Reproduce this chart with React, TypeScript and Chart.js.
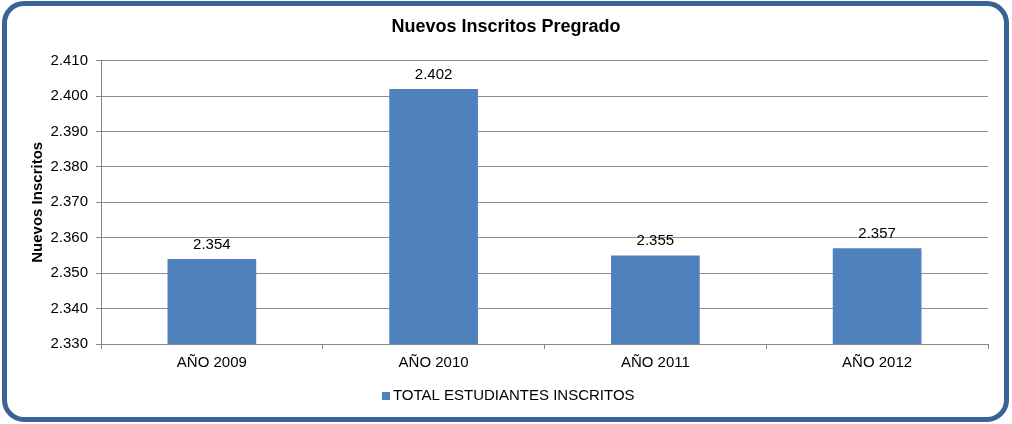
import React, { useEffect, useRef } from "react";
import { Chart, registerables } from "chart.js";

Chart.register(...registerables);

const categories = ["AÑO 2009", "AÑO 2010", "AÑO 2011", "AÑO 2012"];
const seriesName = "TOTAL ESTUDIANTES INSCRITOS";
const values = [2354, 2402, 2355, 2357];
const yMin = 2330;
const yMax = 2410;
const yStep = 10;

const BAR_COLOR = "#4F81BD";

const fmt = (v: number) => {
  const s = String(Math.round(v));
  return s.length > 3 ? s.slice(0, s.length - 3) + "." + s.slice(s.length - 3) : s;
};

const FONT = "'Liberation Sans', Arial, sans-serif";

const dataLabels = {
  id: "dataLabels",
  afterDatasetsDraw(chart: any) {
    const ctx = chart.ctx;
    const meta = chart.getDatasetMeta(0);
    ctx.save();
    ctx.font = `15px ${FONT}`;
    ctx.fillStyle = "#000";
    ctx.textAlign = "center";
    ctx.textBaseline = "alphabetic";
    meta.data.forEach((bar: any, i: number) => {
      ctx.fillText(fmt(values[i]), bar.x, bar.y - 10);
    });
    ctx.restore();
  },
};

export default function App() {
  const ref = useRef<HTMLCanvasElement>(null);
  useEffect(() => {
    // legend marker: 8px square placed close to the text
    const marker = document.createElement("canvas");
    marker.width = 17;
    marker.height = 8;
    const mctx = marker.getContext("2d")!;
    mctx.fillStyle = BAR_COLOR;
    mctx.fillRect(9, 0, 8, 8);

    const chart = new Chart(ref.current!, {
      type: "bar",
      data: {
        labels: categories,
        datasets: [
          {
            label: seriesName,
            data: values,
            backgroundColor: BAR_COLOR,
            borderWidth: 0,
            categoryPercentage: 1,
            barPercentage: 0.4,
          },
        ],
      },
      options: {
        animation: false,
        responsive: false,
        layout: { padding: { left: 24, right: 24, top: 9, bottom: 11 } },
        plugins: {
          title: {
            display: true,
            text: "Nuevos Inscritos Pregrado",
            color: "#000",
            font: { family: FONT, size: 18, weight: "bold" },
            padding: { top: 7, bottom: 23 },
          },
          legend: {
            position: "bottom",
            labels: {
              color: "#000",
              font: { family: FONT, size: 15 },
              usePointStyle: true,
              pointStyle: marker,
              pointStyleWidth: 8,
              boxWidth: 8,
              boxHeight: 8,
              padding: 10,
            },
          },
          tooltip: { enabled: false },
        },
        scales: {
          x: {
            afterFit: (s: any) => {
              s.height = 34;
            },
            grid: {
              drawOnChartArea: false,
              drawTicks: true,
              tickLength: 5,
              color: "#868686",
              offset: true,
            },
            border: { color: "#868686", width: 1 },
            ticks: {
              color: "#000",
              font: { family: FONT, size: 15 },
              padding: 5,
            },
          },
          y: {
            min: yMin,
            max: yMax,
            afterFit: (s: any) => {
              s.width = 77;
            },
            grid: { color: "#8c8c8c", tickLength: 5 },
            border: { color: "#868686", width: 1 },
            ticks: {
              stepSize: yStep,
              color: "#000",
              font: { family: FONT, size: 15 },
              padding: 8,
              callback: (v: any) => fmt(Number(v)),
            },
            title: {
              display: true,
              text: "Nuevos Inscritos",
              color: "#000",
              font: { family: FONT, size: 15, weight: "bold" },
              padding: { top: 5, bottom: 0 },
            },
          },
        },
      },
      plugins: [dataLabels],
    } as any);
    return () => chart.destroy();
  }, []);
  return (
    <div style={{ position: "absolute", left: 0, top: 0, width: 1012, height: 424, background: "#fff" }}>
      <div
        style={{
          position: "absolute",
          left: 2,
          top: 1,
          width: 1007,
          height: 421,
          boxSizing: "border-box",
          border: "5px solid #3A6395",
          borderRadius: 22,
        }}
      />
      <canvas ref={ref} width={1012} height={424} style={{ position: "absolute", left: 0, top: 0 }} />
    </div>
  );
}
